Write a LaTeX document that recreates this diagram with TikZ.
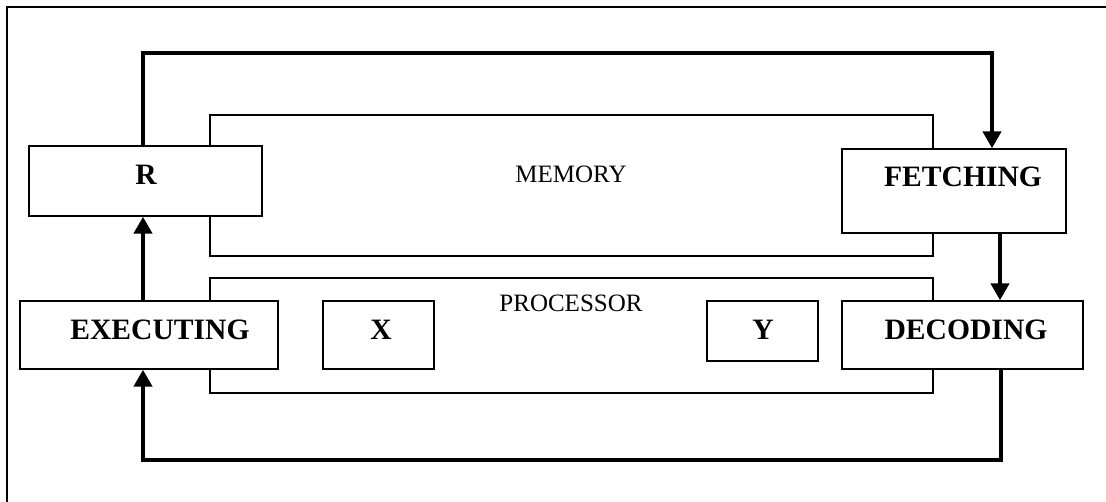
\documentclass[tikz,border=0pt]{standalone}
\usepackage{fontspec}
\setmainfont{Liberation Serif}
\usetikzlibrary{arrows.meta}
\tikzset{
  box/.style={draw, line width=1.4pt, fill=white, inner sep=0pt},
  area/.style={draw, line width=1.3pt, fill=white},
  flow/.style={line width=4.5pt, -{Triangle[width=18pt,length=17pt]}},
  lbl/.style={anchor=base, inner sep=0pt, font=\fontsize{29.6}{34}\selectfont\bfseries},
  plainlbl/.style={anchor=base, inner sep=0pt, font=\fontsize{25}{30}\selectfont},
}
\begin{document}
\begin{tikzpicture}[x=1pt,y=-1pt]
\useasboundingbox (0,0) rectangle (1106,502);
% outer frame (top and left edges visible)
\draw[line width=1.5pt] (7,502) -- (7,7) -- (1106,7);
% memory and processor areas
\draw[area] (210,115) rectangle (933,256);
\draw[area] (210,278) rectangle (933,393);
\node[plainlbl] (memlbl) at (571,183) {MEMORY};
\node[plainlbl] (proclbl) at (571,312) {PROCESSOR};
% boxes
\node[box, minimum width=233pt, minimum height=70pt] (R) at (145.5,181) {};
\node[box, minimum width=224pt, minimum height=84pt] (F) at (954,191) {};
\node[box, minimum width=258pt, minimum height=68pt] (E) at (149,335) {};
\node[box, minimum width=111pt, minimum height=68pt] (X) at (378.5,335) {};
\node[box, minimum width=111pt, minimum height=60pt] (Y) at (762.5,331) {};
\node[box, minimum width=241pt, minimum height=68pt] (D) at (962.5,335) {};
% labels
\node[lbl] (Rl) at (146,185) {R};
\node[lbl] (Fl) at (963,187) {FETCHING};
\node[lbl] (El) at (160,340) {EXECUTING};
\node[lbl] (Xl) at (381,340) {X};
\node[lbl] (Yl) at (763,340) {Y};
\node[lbl] (Dl) at (966,340) {DECODING};
% connector helpers
\coordinate (tl) at (143,53);
\coordinate (tr) at (992,53);
\coordinate (fd) at (1000,0);
\coordinate (bl) at (143,460);
\coordinate (br) at (1001,460);
% connectors
\draw[flow] (R.north -| tl) -- (tl) -- (tr) -- (F.north -| tr);
\draw[flow] (F.south -| fd) -- (D.north -| fd);
\draw[flow] (D.south -| br) -- (br) -- (bl) -- (E.south -| bl);
\draw[flow] (E.north -| tl) -- (R.south -| tl);
\end{tikzpicture}
\end{document}
